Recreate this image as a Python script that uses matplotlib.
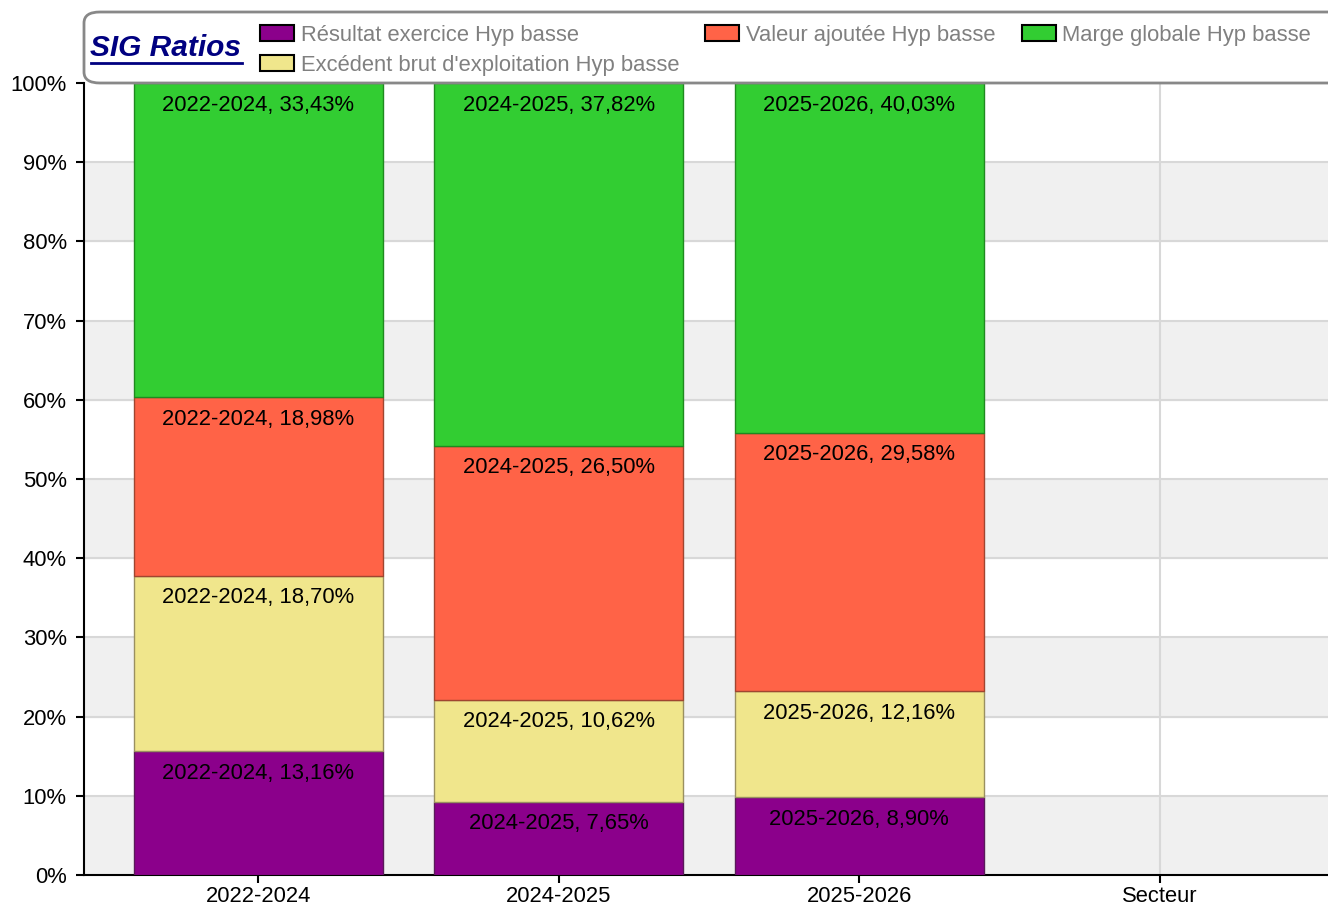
import numpy as np
import matplotlib
matplotlib.use("Agg")
import matplotlib.pyplot as plt
from matplotlib.patches import FancyBboxPatch, Patch
from matplotlib.lines import Line2D

plt.rcParams['font.family'] = ['Liberation Sans', 'DejaVu Sans']

categories = ['2022-2024', '2024-2025', '2025-2026', 'Secteur']
resultat = [13.16, 7.65, 8.90, np.nan]
excedent = [18.70, 10.62, 12.16, np.nan]
valeur = [18.98, 26.50, 29.58, np.nan]
marge = [33.43, 37.82, 40.03, np.nan]

series_names = ['Résultat exercice Hyp basse', "Excédent brut d'exploitation Hyp basse",
                'Valeur ajoutée Hyp basse', 'Marge globale Hyp basse']
series_vals = [resultat, excedent, valeur, marge]
colors = ['#8B008B', '#F0E68C', '#FF6347', '#32CD32']
edges = ['#5a1a5a', '#9a9060', '#a04530', '#1f8a1f']

FS = 15.8

fig = plt.figure(figsize=(13.28, 9.09), dpi=100)
ax = fig.add_axes([84 / 1328, 1 - 875 / 909, 1 - 84 / 1328, (875 - 83) / 909])

vals = np.array(series_vals, dtype=float)
totals = np.nansum(vals, axis=0)
x = np.arange(len(categories))
has = totals > 0

bottom = np.zeros(len(categories))
for name, v, c, ec in zip(series_names, vals, colors, edges):
    pct = np.zeros(len(categories))
    pct[has] = v[has] / totals[has] * 100
    ax.bar(x[has], pct[has], 0.83, bottom=bottom[has], color=c, edgecolor=ec,
           linewidth=1, zorder=3)
    for i in np.where(has)[0]:
        lbl = f"{categories[i]}, {v[i]:.2f}%".replace('.', ',')
        ax.annotate(lbl, (x[i], bottom[i] + pct[i]), xytext=(0, -22),
                    textcoords='offset pixels', ha='center', va='center',
                    fontsize=FS, color='black', zorder=4)
    bottom = bottom + pct

# alternating background bands and grid
for b in range(0, 100, 20):
    ax.axhspan(b, b + 10, color='#f0f0f0', zorder=0)
for yv in range(10, 100, 10):
    ax.axhline(yv, color='#d8d8d8', lw=1.5, zorder=1)
for xv in x:
    ax.axvline(xv, color='#d8d8d8', lw=1.5, zorder=1)

ax.set_xlim(-0.58, 3.56)
ax.set_ylim(0, 100)
ax.set_xticks(x)
ax.set_xticklabels(categories, fontsize=FS)
ax.set_yticks(range(0, 101, 10))
ax.set_yticklabels([f"{t}%" for t in range(0, 101, 10)], fontsize=FS)
ax.tick_params(axis='both', length=6, width=1.5, color='black')
ax.tick_params(axis='x', pad=2)
ax.tick_params(axis='y', pad=6.5)
for s in ['top', 'right']:
    ax.spines[s].set_visible(False)
for s in ['left', 'bottom']:
    ax.spines[s].set_linewidth(1.5)

# header box with title and legend
box = FancyBboxPatch((84 / 1328, 1 - 83 / 909), 1.1, 71 / 909,
                     boxstyle="round,pad=0,rounding_size=0.012",
                     transform=fig.transFigure, facecolor='white',
                     edgecolor='#888888', linewidth=2, zorder=5)
fig.add_artist(box)
fig.text(90 / 1328, 1 - 48 / 909, 'SIG Ratios', fontsize=21.5, fontweight='bold',
         fontstyle='italic', color='#000080', va='center', ha='left', zorder=7)
fig.add_artist(Line2D([91 / 1328, 242 / 1328], [1 - 63 / 909, 1 - 63 / 909],
                      transform=fig.transFigure, color='#000080', lw=2, zorder=7))

handles = [Patch(facecolor=c, edgecolor='black', linewidth=1.5) for c in colors]
leg = fig.legend(handles, series_names, ncol=3,
                 loc='upper left', bbox_to_anchor=(249 / 1328, 1 - 14 / 909),
                 frameon=False, fontsize=FS, handlelength=1.55, handleheight=0.75,
                 handletextpad=0.3, columnspacing=1.2, labelspacing=0.4,
                 borderpad=0, labelcolor='#808080')
leg.set_zorder(8)

fig.savefig('out.png', dpi=100)
